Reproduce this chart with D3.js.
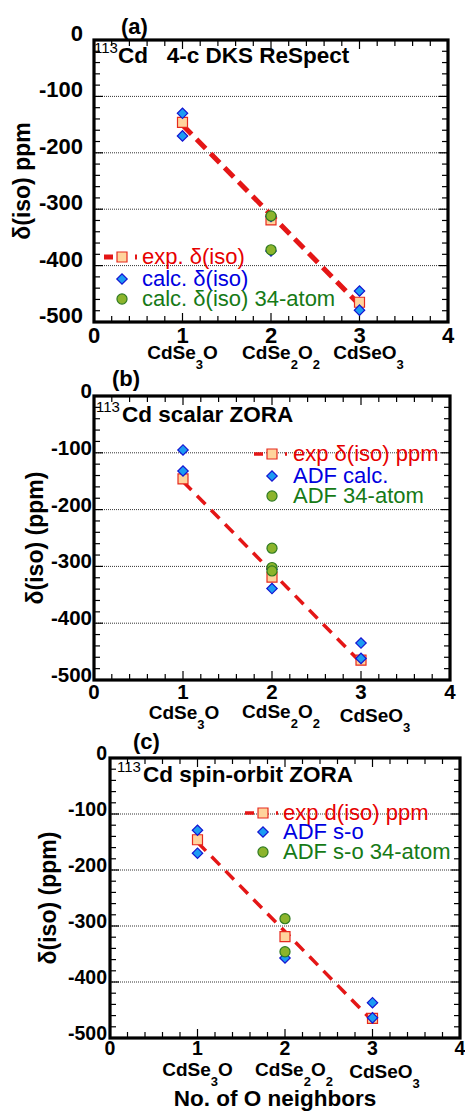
<!DOCTYPE html>
<html>
<head>
<meta charset="utf-8">
<script src="https://cdn.jsdelivr.net/npm/d3@7"></script>
<style>
  body { margin: 0; background: #fff; }
  svg { display: block; }
  text { font-family: "Liberation Sans", Arial, sans-serif; }
</style>
</head>
<body>
<script>
// x positions: number of O neighbours around Cd
const neighbors = [1, 2, 3]
const categories = ['CdSe_3O', 'CdSe_2O_2', 'CdSeO_3']
const expIso = [-146, -319, -465]
const xTicks = [0, 1, 2, 3, 4]
const yTicks = [0, -100, -200, -300, -400, -500]
const gridTicks = [-100, -200, -300, -400]

// [neighbors, shift] pairs
const respectCalc = [[1, -130], [1, -170], [2, -313], [2, -374], [3, -445], [3, -479]]
const respect34 = [[2, -312], [2, -372]]
const scalarCalc = [[1, -95], [1, -132], [2, -305], [2, -339], [3, -435], [3, -462]]
const scalar34 = [[2, -268], [2, -302], [2, -308]]
const soCalc = [[1, -129], [1, -170], [2, -357], [3, -437], [3, -464]]
const so34 = [[2, -287], [2, -346]]

const legendA = ['exp. δ(iso)', 'calc. δ(iso)', 'calc. δ(iso) 34-atom']
const legendB = ['exp δ(iso) ppm', 'ADF calc.', 'ADF 34-atom']
const legendC = ['exp d(iso) ppm', 'ADF s-o', 'ADF s-o 34-atom']

const colors = {
    line: '#e41616',
    sqFill: '#ffd49c', sqStroke: '#e62a1e',
    diaFill: '#1c9cf2', diaStroke: '#1414d2',
    cirFill: '#8cb42c', cirStroke: '#2e7a20',
    legend: ['#e60000', '#0000e0', '#167a16']
}

const panels = [
    { tag: '(a)', tagX: 121, tagY: 34, left: 94, right: 448, top: 40, bottom: 322,
      supX: 94, titleX: 118, titleY: 63, title: 'Cd   4-c DKS ReSpect',
      yTitle: 'δ(iso) ppm', yTitleX: 22,
      tickFont: 22, yTickDx: -11, yTickDy: 1, xTickDy: 21,
      catY: [359, 359, 359], catDx: [0, 10, 9],
      calc: respectCalc, atom: respect34, lineW: 5, dash: '13,7',
      legX: 122, legTextX: 142, legY: [257, 279, 299], legend: legendA },
    { tag: '(b)', tagX: 112, tagY: 386, left: 94, right: 450, top: 396, bottom: 680,
      supX: 96, titleX: 122, titleY: 422, title: 'Cd scalar ZORA',
      yTitle: 'δ(iso) (ppm)', yTitleX: 35,
      tickFont: 20.5, yTickDx: -2, yTickDy: 2, xTickDy: 19,
      catY: [719, 718, 722], catDx: [1, 9, 14],
      calc: scalarCalc, atom: scalar34, lineW: 3.5, dash: '12,8',
      legX: 272, legTextX: 293, legY: [454, 476, 496], legend: legendB },
    { tag: '(c)', tagX: 133, tagY: 749, left: 110, right: 460, top: 758, bottom: 1038,
      supX: 117, titleX: 143, titleY: 782, title: 'Cd spin-orbit ZORA',
      yTitle: 'δ(iso) (ppm)', yTitleX: 48,
      tickFont: 19.5, yTickDx: -3, yTickDy: 1.5, xTickDy: 17,
      catY: [1076, 1076, 1078], catDx: [0, 9, 12],
      calc: soCalc, atom: so34, lineW: 3.5, dash: '12,8',
      legX: 263, legTextX: 283, legY: [813, 832, 852], legend: legendC,
      xTitle: 'No. of O neighbors', xTitleX: 275, xTitleY: 1106 }
]

const svg = d3.select('body').append('svg').attr('width', 465).attr('height', 1112)

const diamond = d3.symbol().type(d3.symbolSquare).size(54)
const square = d3.symbol().type(d3.symbolSquare).size(100)
const circle = d3.symbol().type(d3.symbolCircle).size(80)

// least squares line through the experimental shifts
function fit(xs, ys) {
    const mx = d3.mean(xs), my = d3.mean(ys)
    const slope = d3.sum(xs, (x, i) => (x - mx) * (ys[i] - my)) / d3.sum(xs, x => (x - mx) ** 2)
    return x => my + slope * (x - mx)
}
const expFit = fit(neighbors, expIso)

function drawPanel(p) {
    const g = svg.append('g')
    const x = d3.scaleLinear().domain([0, 4]).range([p.left, p.right])
    const y = d3.scaleLinear().domain([-500, 0]).range([p.bottom, p.top])

    // dotted grid
    g.selectAll('.grid').data(gridTicks).enter().append('line')
        .attr('x1', p.left).attr('x2', p.right)
        .attr('y1', d => y(d)).attr('y2', d => y(d))
        .attr('stroke', '#333').attr('stroke-width', 1).attr('stroke-dasharray', '1,1')

    // inward ticks on all four sides
    const yMinor = d3.range(-500, 1, 20)
    const xMinor = d3.range(0, 4.001, 0.2)
    const isMajorY = v => Math.abs(v % 100) < 1e-6
    const isMajorX = v => Math.abs(v - Math.round(v)) < 1e-6
    yMinor.forEach(v => {
        const len = isMajorY(v) ? 9 : 6
        g.append('line').attr('x1', p.left).attr('x2', p.left + len).attr('y1', y(v)).attr('y2', y(v)).attr('stroke', '#000').attr('stroke-width', 1.2)
        g.append('line').attr('x1', p.right).attr('x2', p.right - len).attr('y1', y(v)).attr('y2', y(v)).attr('stroke', '#000').attr('stroke-width', 1.2)
    })
    xMinor.forEach(v => {
        const len = isMajorX(v) ? 9 : 6
        g.append('line').attr('y1', p.bottom).attr('y2', p.bottom - len).attr('x1', x(v)).attr('x2', x(v)).attr('stroke', '#000').attr('stroke-width', 1.2)
        g.append('line').attr('y1', p.top).attr('y2', p.top + len).attr('x1', x(v)).attr('x2', x(v)).attr('stroke', '#000').attr('stroke-width', 1.2)
    })

    // frame
    g.append('rect').attr('x', p.left).attr('y', p.top)
        .attr('width', p.right - p.left).attr('height', p.bottom - p.top)
        .attr('fill', 'none').attr('stroke', '#000').attr('stroke-width', 3.2)

    // tick labels
    g.selectAll('.ytl').data(yTicks).enter().append('text')
        .attr('x', p.left + p.yTickDx).attr('y', d => y(d) + p.yTickDy)
        .attr('text-anchor', 'end').attr('font-weight', 'bold').attr('font-size', p.tickFont)
        .text(d => d)
    g.selectAll('.xtl').data(xTicks).enter().append('text')
        .attr('x', d => x(d)).attr('y', p.bottom + p.xTickDy)
        .attr('text-anchor', 'middle').attr('font-weight', 'bold').attr('font-size', p.tickFont)
        .text(d => d)

    // category labels with subscripts
    categories.forEach((c, i) => {
        const t = g.append('text').attr('x', x(neighbors[i]) + p.catDx[i]).attr('y', p.catY[i])
            .attr('text-anchor', 'middle').attr('font-weight', 'bold').attr('font-size', 19)
        let shifted = false
        c.split(/(_\d)/).filter(s => s).forEach(s => {
            if (s[0] === '_') {
                t.append('tspan').attr('dy', 10).attr('font-size', 13).text(s.slice(1))
                shifted = true
            } else {
                t.append('tspan').attr('dy', shifted ? -10 : 0).text(s)
                shifted = false
            }
        })
    })

    // axis titles
    g.append('text').attr('transform', `translate(${p.yTitleX},${(p.top + p.bottom) / 2}) rotate(-90)`)
        .attr('text-anchor', 'middle').attr('dy', '0.35em')
        .attr('font-weight', 'bold').attr('font-size', 23).text(p.yTitle)
    if (p.xTitle) {
        g.append('text').attr('x', p.xTitleX).attr('y', p.xTitleY)
            .attr('text-anchor', 'middle').attr('font-weight', 'bold').attr('font-size', 22.5).text(p.xTitle)
    }

    // panel tag and title
    g.append('text').attr('x', p.tagX).attr('y', p.tagY)
        .attr('font-weight', 'bold').attr('font-size', 22).text(p.tag)
    const tt = g.append('text').style('white-space', 'pre')
    tt.append('tspan').attr('x', p.supX).attr('y', p.titleY - 10).attr('font-size', 15).text('113')
    tt.append('tspan').attr('x', p.titleX).attr('y', p.titleY)
        .attr('font-weight', 'bold').attr('font-size', 22.5).text(p.title)

    // experimental trend line
    g.append('line')
        .attr('x1', x(neighbors[0])).attr('y1', y(expFit(neighbors[0])))
        .attr('x2', x(neighbors[neighbors.length - 1])).attr('y2', y(expFit(neighbors[neighbors.length - 1])))
        .attr('stroke', colors.line).attr('stroke-width', p.lineW).attr('stroke-dasharray', p.dash)

    // markers
    g.selectAll('.exp').data(neighbors).enter().append('path')
        .attr('d', square).attr('transform', (d, i) => `translate(${x(d)},${y(expIso[i])})`)
        .attr('fill', colors.sqFill).attr('stroke', colors.sqStroke).attr('stroke-width', 1.2)
    g.selectAll('.calc').data(p.calc).enter().append('path')
        .attr('d', diamond).attr('transform', d => `translate(${x(d[0])},${y(d[1])}) rotate(45)`)
        .attr('fill', colors.diaFill).attr('stroke', colors.diaStroke).attr('stroke-width', 1.2)
    g.selectAll('.atom').data(p.atom).enter().append('path')
        .attr('d', circle).attr('transform', d => `translate(${x(d[0])},${y(d[1])})`)
        .attr('fill', colors.cirFill).attr('stroke', colors.cirStroke).attr('stroke-width', 1.2)

    // legend
    g.append('line').attr('x1', p.legX - 18).attr('x2', p.legX + 15)
        .attr('y1', p.legY[0]).attr('y2', p.legY[0])
        .attr('stroke', colors.line).attr('stroke-width', p.lineW).attr('stroke-dasharray', '9,22,3,50')
    g.append('path').attr('d', square).attr('transform', `translate(${p.legX},${p.legY[0]})`)
        .attr('fill', colors.sqFill).attr('stroke', colors.sqStroke).attr('stroke-width', 1.2)
    g.append('path').attr('d', diamond).attr('transform', `translate(${p.legX},${p.legY[1]}) rotate(45)`)
        .attr('fill', colors.diaFill).attr('stroke', colors.diaStroke).attr('stroke-width', 1.2)
    g.append('path').attr('d', circle).attr('transform', `translate(${p.legX},${p.legY[2]})`)
        .attr('fill', colors.cirFill).attr('stroke', colors.cirStroke).attr('stroke-width', 1.2)
    g.selectAll('.leg').data(p.legend).enter().append('text')
        .attr('x', p.legTextX).attr('y', (d, i) => p.legY[i] + 7)
        .attr('font-size', 22).attr('fill', (d, i) => colors.legend[i])
        .text(d => d)
}

panels.forEach(drawPanel)
</script>
</body>
</html>
